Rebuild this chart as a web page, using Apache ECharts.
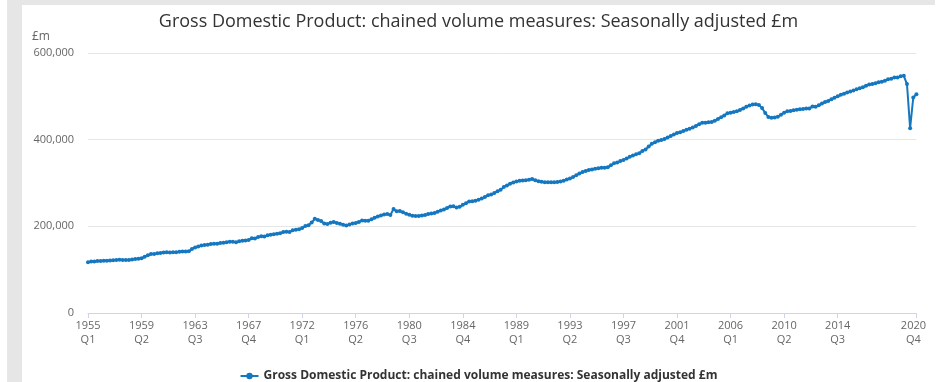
<!DOCTYPE html>
<html>
<head>
<meta charset="utf-8">
<script src="https://cdn.jsdelivr.net/npm/echarts@6/dist/echarts.min.js"></script>
<style>
html,body{margin:0;padding:0;background:#ffffff;width:942px;height:382px;overflow:hidden;}
#frame{position:absolute;left:7px;top:0;width:928px;height:382px;background:#e6e6e6;}
#chart{position:absolute;left:22px;top:5px;width:913px;height:377px;background:#ffffff;}
</style>
</head>
<body>
<div id="frame"></div>
<div id="chart"></div>
<script>
const titleText = 'Gross Domestic Product: chained volume measures: Seasonally adjusted £m';
const seriesName = 'Gross Domestic Product: chained volume measures: Seasonally adjusted £m';
const unitLabel = '£m';
const startYear = 1955;
const endYear = 2020;
const quarterNames = ['Q1','Q2','Q3','Q4'];
const yTicks = [0, 200000, 400000, 600000];

// GDP values in thousands of £m, quarterly, one row per year
const gdp1955_1964 = [
  117.0,118.6,118.9,119.8, 120.1,120.5,120.4,121.0, 121.8,122.4,122.9,122.3,
  122.5,122.1,123.4,124.6, 125.1,126.3,129.8,133.4, 135.9,136.4,137.6,138.3,
  139.5,140.4,139.9,140.2, 140.3,141.6,142.2,141.8, 142.6,147.9,151.3,153.6,
  155.8,156.9,157.4,159.3
];
const gdp1965_1974 = [
  159.6,159.9,161.4,162.3, 163.5,164.6,164.2,163.5, 165.4,166.6,167.4,168.3,
  172.3,172.0,175.1,177.2, 176.3,179.2,180.6,181.9, 182.9,183.8,187.0,187.6,
  187.2,190.8,192.4,193.3, 195.9,200.8,202.6,208.8, 217.3,214.9,212.1,206.8,
  205.3,208.4,210.1,207.9
];
const gdp1975_1984 = [
  206.2,203.5,202.1,204.0, 206.8,207.7,210.1,213.4, 213.0,212.6,216.2,219.8,
  222.6,225.1,227.3,228.4, 226.1,240.0,234.6,235.2, 232.4,229.2,226.8,224.3,
  223.9,224.1,225.2,226.4, 228.2,229.4,230.8,233.6, 236.8,238.9,242.3,245.9,
  246.3,243.2,245.1,249.6
];
const gdp1985_1994 = [
  253.0,257.4,257.9,259.1, 261.6,264.3,267.5,271.6, 273.4,276.8,280.9,284.6,
  291.0,294.2,298.4,301.3, 303.4,305.1,305.6,306.2, 307.4,309.3,306.1,303.9,
  302.7,302.0,301.6,301.9, 301.5,302.3,303.4,305.1, 308.0,310.6,313.7,317.6,
  322.0,325.1,327.9,330.1
];
const gdp1995_2004 = [
  331.4,332.6,334.0,335.3, 335.4,336.6,340.8,345.3, 347.2,350.6,353.2,356.8,
  360.5,363.4,366.1,368.8, 373.9,377.2,384.1,390.6, 394.3,397.5,399.0,401.3,
  405.0,408.6,412.1,415.3, 417.3,419.8,422.7,425.4, 428.2,431.6,435.7,438.9,
  438.8,440.2,440.9,443.6
];
const gdp2005_2014 = [
  447.9,451.6,455.8,460.9, 462.4,463.6,465.4,468.6, 472.0,475.8,479.1,481.3,
  482.0,480.1,472.8,461.5, 452.4,450.3,451.1,452.9, 457.6,462.4,465.3,466.0,
  468.1,468.9,470.0,470.6, 471.8,472.2,476.3,475.7, 479.4,483.2,486.9,489.3,
  493.1,497.0,500.1,503.4
];
const gdp2015_2020 = [
  505.7,508.8,510.9,513.6, 516.1,518.4,521.0,524.3, 527.2,528.7,530.4,532.7,
  533.5,535.9,539.5,540.8, 543.5,543.6,546.2,547.4, 528.4,426.5,497.3,504.6
];

const categories = [];
for (let y = startYear; y <= endYear; y++) {
  for (let q = 0; q < 4; q++) categories.push(y + ' ' + quarterNames[q]);
}
const values = [].concat(gdp1955_1964, gdp1965_1974, gdp1975_1984, gdp1985_1994,
  gdp1995_2004, gdp2005_2014, gdp2015_2020).map(v => Math.round(v * 1000));

const labelStep = 17;
const lastIdx = categories.length - 1;
const showIdx = (i) => i === lastIdx || (i % labelStep === 0 && i <= lastIdx - labelStep);
const FONT = "'Open Sans', 'Noto Sans', sans-serif";

const chart = echarts.init(document.getElementById('chart'), null, {renderer: 'canvas'});
chart.setOption({
  animation: false,
  backgroundColor: '#ffffff',
  textStyle: {fontFamily: FONT},
  title: {
    text: titleText,
    left: 'center',
    top: 3,
    textStyle: {fontFamily: FONT, fontSize: 18, fontWeight: 'normal', color: '#333333'}
  },
  graphic: [{
    type: 'text',
    left: 10,
    top: 26,
    style: {text: unitLabel, fontFamily: FONT, fontSize: 12, fill: '#666666'}
  }],
  legend: {
    bottom: 0,
    padding: 0,
    left: 'center',
    itemWidth: 18,
    itemHeight: 8,
    textStyle: {fontFamily: FONT, fontSize: 12, fontWeight: 'bold', color: '#333333'},
    data: [seriesName]
  },
  grid: {left: 66, right: 18, top: 48, bottom: 69, containLabel: false},
  xAxis: {
    type: 'category',
    data: categories,
    boundaryGap: false,
    axisLine: {lineStyle: {color: '#ccd6eb', width: 1}},
    axisTick: {show: true, interval: showIdx, length: 5, lineStyle: {color: '#ccd6eb'}},
    axisLabel: {
      interval: showIdx,
      margin: 6,
      color: '#666666',
      fontFamily: FONT,
      fontSize: 11,
      lineHeight: 14,
      hideOverlap: false,
      formatter: (v, i) => {
        const parts = v.split(' ');
        if (i === lastIdx) return '{e|' + parts[0] + '}\n{e|' + parts[1] + '}';
        return parts.join('\n');
      },
      rich: {
        e: {color: '#666666', fontFamily: FONT, fontSize: 11, lineHeight: 14, padding: [0, 6, 0, 0]}
      }
    },
    splitLine: {show: false}
  },
  yAxis: {
    type: 'value',
    min: yTicks[0],
    max: yTicks[yTicks.length - 1],
    interval: yTicks[1] - yTicks[0],
    axisLine: {show: false},
    axisTick: {show: false},
    axisLabel: {
      margin: 14,
      color: '#666666',
      fontFamily: FONT,
      fontSize: 11,
      formatter: (v) => v.toLocaleString('en-GB')
    },
    splitLine: {lineStyle: {color: '#e6e6e6', width: 1}}
  },
  series: [{
    name: seriesName,
    type: 'line',
    data: values,
    color: '#1477c0',
    lineStyle: {width: 2, color: '#1477c0'},
    symbol: 'circle',
    symbolSize: 4,
    showSymbol: true,
    showAllSymbol: true,
    itemStyle: {color: '#1477c0'}
  }]
});
</script>
</body>
</html>
